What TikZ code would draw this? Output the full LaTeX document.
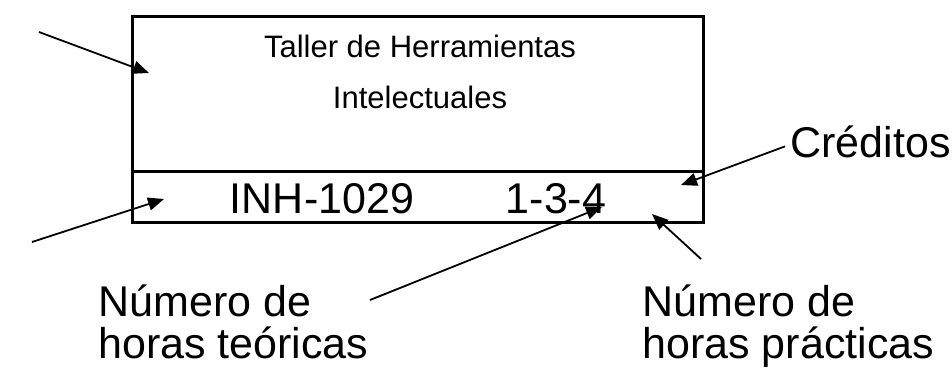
\documentclass[tikz,border=0pt]{standalone}
\usepackage{fontspec}
\setmainfont{Liberation Sans}
\usetikzlibrary{arrows.meta}

\begin{document}
\begin{tikzpicture}[x=.5pt,y=-.5pt,
		flecha/.style={-{Triangle[length=8pt,width=6.5pt]},line width=.9pt},
		grande/.style={font=\fontsize{21.5}{21}\selectfont,inner sep=0pt},
		borde/.style={line width=1.5pt,line cap=rect}]
			\useasboundingbox (0,0) rectangle (952,377);
			% caja de la materia
			\draw[borde] (132,16) rectangle (703,222);
			\draw[borde] (132,171) -- (703,171);
			\node[font=\fontsize{15.5}{25.5}\selectfont,align=center,inner sep=0pt,anchor=north] (titulo) at (420,35) {Taller de Herramientas\\Intelectuales};
			\node[grande,anchor=base] (clave) at (322,213) {INH-1029};
			\node[grande,anchor=base] (horas) at (556,213) {1-3-4};
			% etiquetas
			\node[grande,anchor=base west] (creditos) at (790,157) {Créditos};
			\node[grande,align=left,anchor=north west] (teoricas) at (98,284) {Número de\\horas teóricas};
			\node[grande,align=left,anchor=north west] (practicas) at (642,284) {Número de\\horas prácticas};
			% extremos de las flechas
			\coordinate (n0) at (39,32);   \coordinate (n1) at (149,73);
			\coordinate (c0) at (32,242);  \coordinate (c1) at (164,199);
			\coordinate (t0) at (370,300); \coordinate (t1) at (602,207);
			\coordinate (p0) at (701,259); \coordinate (p1) at (652,214);
			\coordinate (k1) at (681,185);
			\foreach \a/\b in {n0/n1,c0/c1,t0/t1,p0/p1} \draw[flecha] (\a) -- (\b);
			\draw[flecha] ([xshift=-2.5pt,yshift=-2.5pt]creditos.west) -- (k1);
		\end{tikzpicture}
\end{document}
